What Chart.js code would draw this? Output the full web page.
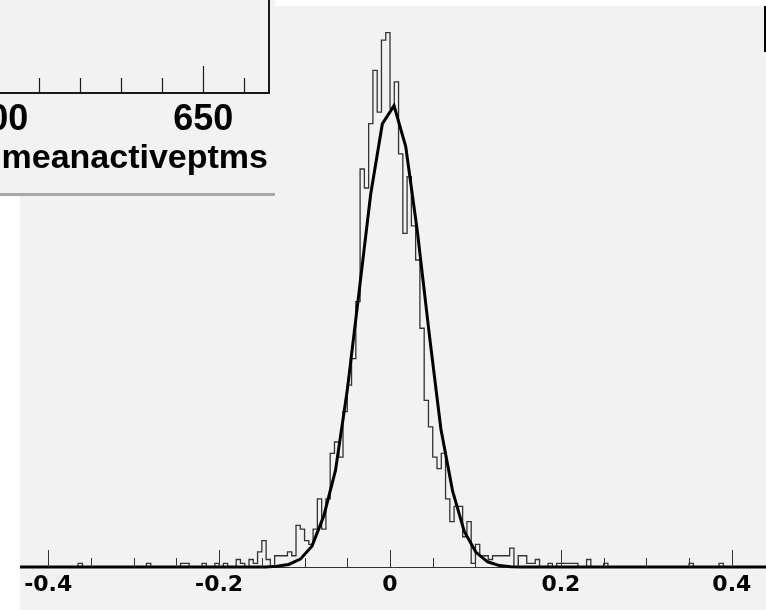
<!DOCTYPE html>
<html>
<head>
<meta charset="utf-8">
<script src="https://cdn.jsdelivr.net/npm/chart.js@4.4.1/dist/chart.umd.min.js"></script>
<style>
  html, body { margin: 0; padding: 0; background: #ffffff; }
  canvas { display: block; }
</style>
</head>
<body>
<canvas id="residChart" width="766" height="610"></canvas>
<script>
// ---------- histogram (bins of 0.005 from -0.44 to 0.44) ----------
const binLow = -0.44;
const binWidth = 0.005;
const counts = [
  0,0,0,0,0,0,0,0,0,0,  0,0,0,0,0,0,1,0,0,0,   // -0.440 .. -0.345
  0,0,0,0,0,0,0,0,0,0,  0,0,1,0,0,0,0,0,0,0,   // -0.340 .. -0.245
  1,1,0,0,0,1,0,0,1,0,  1,0,0,2,1,0,2,1,4,7,   // -0.240 .. -0.145
  2,0,3,3,3,4,3,11,10,7, 6,10,18,10,18,30,33,29,41,48, // -0.140 .. -0.045
  55,70,105,100,117,131,120,139,                // -0.040 .. -0.005
  141,121,128,109,88,103,90,81,63,44,           //  0.000 ..  0.045
  37,29,26,30,18,12,16,16,8,12, 1,6,3,3,2,3,3,3,3,5, // 0.050 .. 0.145
  0,3,3,1,1,2,0,0,1,0,  1,1,1,1,1,0,0,2,0,0,   //  0.150 ..  0.245
  0,1,0,0,0,0,0,0,0,0,  0,0,0,0,0,0,0,0,0,0,   //  0.250 ..  0.345
  0,1,0,0,0,0,0,0,1,0                           //  0.350 ..  0.395
];
// pad the remaining bins up to 0.44
while (counts.length < 176) counts.push(0);

// ---------- fitted curve ----------
const fitX = [-0.433, -0.1460, -0.1323, -0.1186, -0.1049, -0.0912, -0.0775, -0.0638,
  -0.0501, -0.0364, -0.0227, -0.0090, 0.0047, 0.0184, 0.0321, 0.0458, 0.0595,
  0.0732, 0.0869, 0.1006, 0.1143, 0.1280, 0.1417, 0.1554, 0.44];
const fitY = [0, 0.05, 0.2, 0.7, 2.1, 5.6, 13.5, 25.5,
  46.5, 72.2, 98.2, 116.9, 121.7, 110.9, 88.4, 61.7, 36.5,
  20.1, 9.4, 3.9, 1.4, 0.4, 0.1, 0.02, 0];

// ---------- axes ----------
const xMin = -0.433, xMax = 0.44;
const yMin = 0, yMax = 148;
const tickValues = [-0.4, -0.2, 0, 0.2, 0.4];
const tickLabels = ['-0.4', '-0.2', '0', '0.2', '0.4'];
const minorTickValues = [-0.4, -0.35, -0.3, -0.25, -0.2, -0.15, -0.1, -0.05, 0,
  0.05, 0.1, 0.15, 0.2, 0.25, 0.3, 0.35, 0.4];

// inset pad (previous plot, partly visible)
const insetTickValues = [600, 610, 620, 630, 640, 650, 660];
const insetMajorValues = [600, 650];
const insetLabels = ['600', '650'];
const insetTitle = 'meanactiveptms';

// =========================================
// DATA POINTS
// =========================================

const histPoints = counts.map((c, i) => ({ x: binLow + i * binWidth, y: c }));
histPoints.push({ x: binLow + counts.length * binWidth, y: counts[counts.length - 1] });

const fitPoints = fitX.map((x, i) => ({ x: x, y: fitY[i] }));

// =========================================
// PAD DRAWING
// =========================================

const padPlugin = {
    id: 'pads',
    beforeDraw(chart) {
        const c = chart.ctx;
        c.save();
        c.fillStyle = '#ffffff';
        c.fillRect(0, 0, chart.width, chart.height);
        c.fillStyle = '#f2f2f2';
        c.fillRect(20, 6, chart.width - 20, chart.height - 6);
        c.restore();
    },
    afterDatasetsDraw(chart) {
        // ticks pointing into the frame, ROOT style
        const c = chart.ctx;
        const xs = chart.scales.x;
        const y0 = chart.chartArea.bottom;
        c.save();
        c.strokeStyle = '#333333';
        c.lineWidth = 1;
        minorTickValues.forEach(v => {
            const px = Math.round(xs.getPixelForValue(v)) + 0.5;
            const major = tickValues.some(t => Math.abs(t - v) < 1e-9);
            c.beginPath();
            c.moveTo(px, y0);
            c.lineTo(px, y0 - (major ? 17 : 9));
            c.stroke();
        });
        c.restore();
    },
    afterDraw(chart) {
        const c = chart.ctx;
        c.save();
        // inset pad
        c.fillStyle = '#f2f2f2';
        c.fillRect(0, 0, 275, 193);
        c.fillStyle = '#a8a8a8';
        c.fillRect(0, 193, 275, 3);

        const ix = v => 203.3 + (v - 650) * 4.1;
        c.strokeStyle = '#1a1a1a';
        c.lineWidth = 2;
        c.beginPath();
        c.moveTo(0, 93);
        c.lineTo(269, 93);
        c.lineTo(269, 0);
        c.stroke();

        c.lineWidth = 1.2;
        insetTickValues.forEach(v => {
            const px = Math.round(ix(v)) + 0.5;
            const len = insetMajorValues.includes(v) ? 27 : 15;
            c.beginPath();
            c.moveTo(px, 93);
            c.lineTo(px, 93 - len);
            c.stroke();
        });

        c.fillStyle = '#000000';
        c.font = 'bold 36px "Liberation Sans", Arial, sans-serif';
        c.textAlign = 'center';
        c.textBaseline = 'alphabetic';
        insetMajorValues.forEach((v, i) => c.fillText(insetLabels[i], ix(v), 130));

        c.font = 'bold 34px "Liberation Sans", Arial, sans-serif';
        c.textAlign = 'right';
        c.fillText(insetTitle, 268, 168);

        // edge of the box at the right border
        c.fillStyle = '#000000';
        c.fillRect(764, 6, 2, 46);
        c.restore();
    }
};

// =========================================
// CHART
// =========================================

const ctx = document.getElementById('residChart');

const chart = new Chart(ctx, {

    type: 'line',

    data: {
        datasets: [
            {
                label: 'fit',
                data: fitPoints,
                borderColor: '#000000',
                borderWidth: 3,
                pointRadius: 0,
                tension: 0,
                clip: false,
                order: 0
            },
            {
                label: 'residual',
                data: histPoints,
                stepped: 'after',
                borderColor: '#333333',
                borderWidth: 1.3,
                pointRadius: 0,
                fill: false,
                order: 1
            }
        ]
    },

    options: {
        responsive: false,
        animation: false,
        layout: {
            padding: { left: 20, top: 6, right: 0, bottom: 6.5 }
        },
        plugins: {
            legend: { display: false },
            tooltip: { enabled: false }
        },
        scales: {
            x: {
                type: 'linear',
                min: xMin,
                max: xMax,
                afterBuildTicks: scale => {
                    scale.ticks = tickValues.map(v => ({ value: v }));
                },
                ticks: {
                    autoSkip: false,
                    maxRotation: 0,
                    minRotation: 0,
                    padding: 5,
                    color: '#000000',
                    font: { family: '"DejaVu Sans"', weight: 'bold', size: 22 },
                    callback: v => {
                        const i = tickValues.findIndex(t => Math.abs(t - v) < 1e-9);
                        return i >= 0 ? tickLabels[i] : '';
                    }
                },
                grid: { display: false, drawTicks: false },
                border: { display: true, color: '#333333', width: 1 }
            },
            y: {
                display: false,
                min: yMin,
                max: yMax
            }
        }
    },

    plugins: [padPlugin]
});
</script>
</body>
</html>
